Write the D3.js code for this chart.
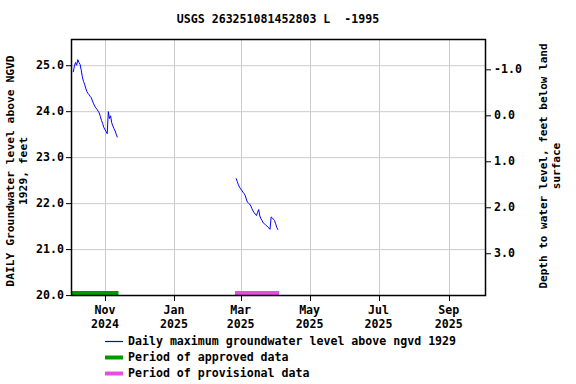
<!DOCTYPE html>
<html>
<head>
<meta charset="utf-8">
<script src="https://cdn.jsdelivr.net/npm/d3@7"></script>
<style>
body { margin: 0; background: #fff; }
svg text { font-family: "DejaVu Sans Mono", monospace; font-weight: bold; fill: #000; }
</style>
</head>
<body>
<svg width="576" height="384"></svg>
<script>
var title = "USGS 263251081452803 L  -1995";

// daily maximum levels, feet above NGVD 1929
var seg1Start = "2024-10-04";
var seg1 = [24.85, 24.98, 25.06, 25.00, 25.12, 25.06, 25.02, 24.90, 24.75, 24.65,
	24.59, 24.50, 24.43, 24.39, 24.36, 24.32, 24.29, 24.22, 24.16, 24.11,
	24.07, 24.04, 24.00, 23.96, 23.88, 23.80, 23.73, 23.65, 23.60, 23.56,
	23.51, 23.99, 23.84, 23.90, 23.75, 23.68, 23.62, 23.57, 23.50, 23.43];
var seg2Start = "2025-02-25";
var seg2 = [22.54, 22.47, 22.40, 22.35, 22.31, 22.28, 22.24, 22.21, 22.17, 22.09,
	22.02, 22.00, 21.98, 21.94, 21.88, 21.83, 21.79, 21.76, 21.73, 21.80,
	21.86, 21.72, 21.66, 21.62, 21.57, 21.55, 21.53, 21.51, 21.48, 21.46,
	21.43, 21.70, 21.68, 21.65, 21.62, 21.55, 21.47, 21.42];

var landSurface = 23.91;
var approved = [["2024-10-02", "2024-11-13"]];
var provisional = [["2025-02-24", "2025-04-04"]];

var leftTicks = [20, 21, 22, 23, 24, 25];
var rightTicks = [-1, 0, 1, 2, 3];
var monthTicks = ["2024-11-01", "2025-01-01", "2025-03-01", "2025-05-01", "2025-07-01", "2025-09-01"];

var legendItems = [
	{label: "Daily maximum groundwater level above ngvd 1929", color: "#0000ff", w: 1.2},
	{label: "Period of approved data", color: "#009900", w: 4},
	{label: "Period of provisional data", color: "#e64ee0", w: 4}
];

var parse = d3.utcParse("%Y-%m-%d");
var svg = d3.select("svg");
var m = {left: 71, right: 486, top: 39, bottom: 296};

var x = d3.scaleUtc()
	.domain([parse("2024-10-02"), parse("2025-10-04")])
	.range([m.left, m.right]);
var y = d3.scaleLinear().domain([19.98, 25.57]).range([m.bottom, m.top]);
var yr = d3.scaleLinear()
	.domain([landSurface - 19.98, landSurface - 25.57])
	.range([m.bottom, m.top]);

function toPoints(start, vals) {
	var s = parse(start);
	return vals.map(function (v, i) { return {date: d3.utcDay.offset(s, i), v: v}; });
}

// grid
svg.append("g").selectAll("line")
	.data(leftTicks)
	.enter().append("line")
	.attr("x1", m.left).attr("x2", m.right)
	.attr("y1", function (d) { return y(d) + 0.5; })
	.attr("y2", function (d) { return y(d) + 0.5; })
	.attr("stroke", "#cccccc");

svg.append("g").selectAll("line")
	.data(monthTicks)
	.enter().append("line")
	.attr("x1", function (d) { return Math.round(x(parse(d))) + 0.5; })
	.attr("x2", function (d) { return Math.round(x(parse(d))) + 0.5; })
	.attr("y1", m.top).attr("y2", m.bottom)
	.attr("stroke", "#cccccc");

// approval bars
function bars(list, color) {
	svg.append("g").selectAll("line")
		.data(list)
		.enter().append("line")
		.attr("x1", function (d) { return x(parse(d[0])); })
		.attr("x2", function (d) { return x(parse(d[1])); })
		.attr("y1", m.bottom - 2.5).attr("y2", m.bottom - 2.5)
		.attr("stroke", color)
		.attr("stroke-width", 5);
}
bars(approved, legendItems[1].color);
bars(provisional, legendItems[2].color);

// data lines
var line = d3.line()
	.x(function (d) { return x(d.date); })
	.y(function (d) { return y(d.v); });

[toPoints(seg1Start, seg1), toPoints(seg2Start, seg2)].forEach(function (pts) {
	svg.append("path")
		.datum(pts)
		.attr("d", line)
		.attr("fill", "none")
		.attr("stroke", legendItems[0].color)
		.attr("stroke-width", 1);
});

// frame
svg.append("rect")
	.attr("x", m.left + 0.5).attr("y", m.top + 0.5)
	.attr("width", m.right - m.left - 1).attr("height", m.bottom - m.top - 1)
	.attr("fill", "none").attr("stroke", "#000").attr("stroke-width", 1.5);

// left axis
var la = svg.append("g");
la.selectAll("line").data(leftTicks).enter().append("line")
	.attr("x1", m.left - 5).attr("x2", m.left)
	.attr("y1", function (d) { return y(d) + 0.5; })
	.attr("y2", function (d) { return y(d) + 0.5; })
	.attr("stroke", "#000");
la.selectAll("text").data(leftTicks).enter().append("text")
	.attr("x", m.left - 7)
	.attr("y", function (d) { return y(d) + 4; })
	.attr("text-anchor", "end")
	.style("font-size", "11.6px")
	.text(function (d) { return d.toFixed(1); });

// right axis
var ra = svg.append("g");
ra.selectAll("line").data(rightTicks).enter().append("line")
	.attr("x1", m.right).attr("x2", m.right + 5)
	.attr("y1", function (d) { return yr(d) + 0.5; })
	.attr("y2", function (d) { return yr(d) + 0.5; })
	.attr("stroke", "#000");
ra.selectAll("text").data(rightTicks).enter().append("text")
	.attr("x", m.right + 8)
	.attr("y", function (d) { return yr(d) + 4; })
	.attr("text-anchor", "start")
	.style("font-size", "11.6px")
	.text(function (d) { return d.toFixed(1); });

// bottom axis
var ba = svg.append("g");
ba.selectAll("line").data(monthTicks).enter().append("line")
	.attr("x1", function (d) { return Math.round(x(parse(d))) + 0.5; })
	.attr("x2", function (d) { return Math.round(x(parse(d))) + 0.5; })
	.attr("y1", m.bottom).attr("y2", m.bottom + 5)
	.attr("stroke", "#000");
var fmtM = d3.utcFormat("%b"), fmtY = d3.utcFormat("%Y");
ba.selectAll("text").data(monthTicks).enter().append("text")
	.attr("text-anchor", "middle")
	.attr("transform", function (d) { return "translate(" + x(parse(d)) + ",0)"; })
	.style("font-size", "11.6px")
	.each(function (d) {
		var t = d3.select(this);
		t.append("tspan").attr("x", 0).attr("y", 314).text(fmtM(parse(d)));
		t.append("tspan").attr("x", 0).attr("y", 328).text(fmtY(parse(d)));
	});

// titles
svg.append("text")
	.attr("x", 278).attr("y", 23)
	.attr("text-anchor", "middle")
	.style("font-size", "11.6px")
	.attr("xml:space", "preserve")
	.text(title);

svg.append("text")
	.attr("transform", "translate(14,171) rotate(-90)")
	.attr("text-anchor", "middle")
	.style("font-size", "11.3px")
	.text("DAILY Groundwater level above NGVD");
svg.append("text")
	.attr("transform", "translate(27,171) rotate(-90)")
	.attr("text-anchor", "middle")
	.style("font-size", "11.3px")
	.text("1929, feet");

svg.append("text")
	.attr("transform", "translate(547,166) rotate(-90)")
	.attr("text-anchor", "middle")
	.style("font-size", "11px")
	.text("Depth to water level, feet below land");
svg.append("text")
	.attr("transform", "translate(560,166) rotate(-90)")
	.attr("text-anchor", "middle")
	.style("font-size", "11px")
	.text("surface");

// legend
var lg = svg.append("g").selectAll("g")
	.data(legendItems)
	.enter().append("g")
	.attr("transform", function (d, i) { return "translate(105," + (341 + i * 16) + ")"; });
lg.append("line")
	.attr("x1", 0).attr("x2", 18)
	.attr("y1", 0.5).attr("y2", 0.5)
	.attr("stroke", function (d) { return d.color; })
	.attr("stroke-width", function (d) { return d.w; });
lg.append("text")
	.attr("x", 23).attr("y", 4)
	.style("font-size", "11.6px")
	.text(function (d) { return d.label; });
</script>
</body>
</html>
